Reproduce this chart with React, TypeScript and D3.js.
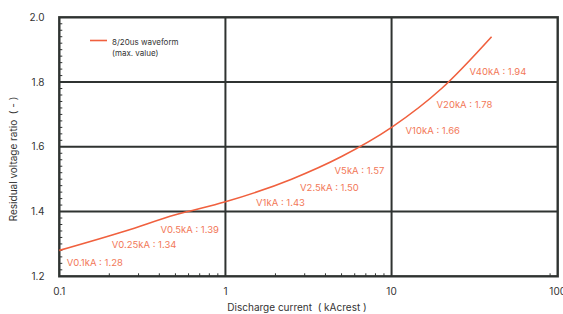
import React from "react";
import * as d3 from "d3";

const currents = [0.1, 0.25, 0.5, 1, 2.5, 5, 10, 20, 40];
const ratios = [1.28, 1.34, 1.39, 1.43, 1.5, 1.57, 1.66, 1.78, 1.94];
const pointLabels = ["V0.1kA : 1.28", "V0.25kA : 1.34", "V0.5kA : 1.39", "V1kA : 1.43", "V2.5kA : 1.50", "V5kA : 1.57", "V10kA : 1.66", "V20kA : 1.78", "V40kA : 1.94"];
const xMajorTicks = [0.1, 1, 10, 100];
const xTickLabels = ["0.1", "1", "10", "100"];
const xMinorTicks = [0.2, 0.3, 0.4, 0.5, 0.6, 0.7, 0.8, 0.9, 2, 3, 4, 5, 6, 7, 8, 9, 90];
const yMajorTicks = [1.2, 1.4, 1.6, 1.8, 2.0];
const yTickLabels = ["1.2", "1.4", "1.6", "1.8", "2.0"];
const seriesName = ["8/20us waveform", "(max. value)"];
const xTitle = "Discharge current  ( kAcrest )";
const yTitle = "Residual voltage ratio  ( - )";

// label placement offsets (pixels from the data point)
const labelOffsets: [number, number][] = [
  [7.4, 15.6], [-13.7, 17], [-15, 18], [30.6, 4.3], [8.5, 12], [-7, 17.5], [14, 7], [-5, 19.5], [-22, 38],
];

const W = 563, H = 314;
const L = 59.3, R = 557.7, T = 17.3, B = 276.3;
const FONT = "Inter, 'Noto Sans', sans-serif";
const DARK = "#2f3331";
const LINE = "#f0603e";
const LABEL = "#f27858";

export default function App() {
  const x = d3.scaleLog().domain([0.1, 100]).range([L, R]);
  const y = d3.scaleLinear().domain([1.2, 2.0]).range([B, T]);
  const yMinor = d3.range(1.2, 2.0001, 0.02).filter((v) => Math.abs(Math.round(v * 5) - v * 5) > 1e-6);
  const pts: [number, number][] = currents.map((c, i) => [x(c), y(ratios[i])]);
  const line = d3.line().curve(d3.curveMonotoneX)(pts) || "";

  return (
    <svg width={W} height={H} style={{ position: "absolute", left: 0, top: 0, background: "#fff" }} fontFamily={FONT}>
      {/* grid */}
      {xMajorTicks.slice(1, -1).map((t) => (
        <line key={"gx" + t} x1={x(t)} x2={x(t)} y1={T} y2={B} stroke={DARK} strokeWidth={2} />
      ))}
      {yMajorTicks.slice(1, -1).map((t) => (
        <line key={"gy" + t} x1={L} x2={R} y1={y(t)} y2={y(t)} stroke={DARK} strokeWidth={2} />
      ))}
      {/* minor ticks */}
      {xMinorTicks.map((t) => (
        <line key={"mx" + t} x1={x(t)} x2={x(t)} y1={B} y2={B - 3} stroke={DARK} strokeWidth={1} />
      ))}
      {yMinor.map((t) => (
        <line key={"my" + t} x1={L} x2={L + 3} y1={y(t)} y2={y(t)} stroke={DARK} strokeWidth={1} />
      ))}
      {/* frame */}
      <rect x={L} y={T} width={R - L} height={B - T} fill="none" stroke={DARK} strokeWidth={2.4} />
      {/* tick labels */}
      {xMajorTicks.map((t, i) => (
        <text key={"tx" + t} x={x(t)} y={295} fontSize={10} fill="#333" textAnchor="middle">{xTickLabels[i]}</text>
      ))}
      {yMajorTicks.map((t, i) => (
        <text key={"ty" + t} x={44.5} y={y(t) + 3.6} fontSize={10} fill="#333" textAnchor="end">{yTickLabels[i]}</text>
      ))}
      {/* titles */}
      <text x={297} y={311} fontSize={10} fill="#333" textAnchor="middle" style={{ whiteSpace: "pre" }}>{xTitle}</text>
      <text transform={`translate(17,159) rotate(-90)`} fontSize={10} fill="#333" textAnchor="middle" style={{ whiteSpace: "pre" }}>{yTitle}</text>
      {/* series */}
      <path d={line} fill="none" stroke={LINE} strokeWidth={1.6} />
      {pts.map(([px, py], i) => (
        <text key={"pl" + i} x={px + labelOffsets[i][0]} y={py + labelOffsets[i][1]} fontSize={9.5} fill={LABEL}>{pointLabels[i]}</text>
      ))}
      {/* legend */}
      <line x1={90} x2={107} y1={40.5} y2={40.5} stroke={LINE} strokeWidth={1.6} />
      <text x={112} y={45} fontSize={8} fill="#333">{seriesName[0]}</text>
      <text x={112} y={56} fontSize={8} fill="#333">{seriesName[1]}</text>
    </svg>
  );
}
